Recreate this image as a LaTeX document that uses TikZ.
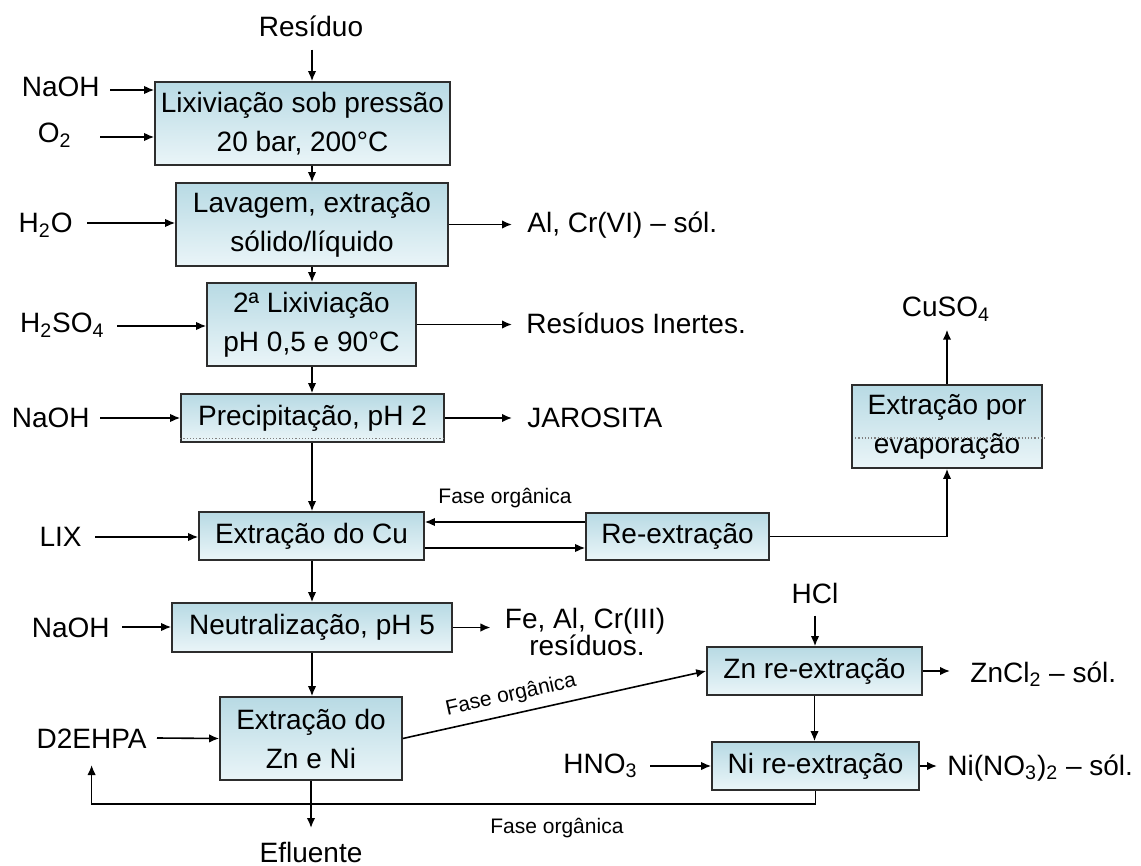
\documentclass[tikz,border=0pt]{standalone}
\usepackage{fontspec}
\setmainfont{Liberation Sans}
\usetikzlibrary{arrows.meta,calc}
\definecolor{boxtop}{RGB}{184,218,228}
\definecolor{boxbot}{RGB}{234,245,248}
\definecolor{boxline}{RGB}{45,45,45}
\begin{document}
\begin{tikzpicture}[x=0.5pt,y=-0.5pt,
  box/.style={draw=boxline, line width=0.8pt, top color=boxtop, bottom color=boxbot,
    inner sep=0pt, align=center, font=\fontsize{14}{19.5}\selectfont},
  lbl/.style={inner sep=0pt, font=\fontsize{14}{16}\selectfont},
  small/.style={inner sep=0pt, font=\fontsize{10.5}{12}\selectfont},
  arr/.style={line width=0.8pt, draw=black, -{Latex[length=5pt,width=4.2pt]}},
  dotl/.style={densely dotted, draw=gray, line width=0.6pt},
]
\useasboundingbox (0,0) rectangle (1141,866);
\fill[white] (0,0) rectangle (1141,866);

% process boxes
\node[box, minimum width=147.5pt, minimum height=41.5pt] (lix)  at (302.5,123.5) {Lixiviação sob pressão\\20 bar, 200°C};
\node[box, minimum width=136pt,   minimum height=41.5pt] (lav)  at (312,224.5) {Lavagem, extração\\sólido/líquido};
\node[box, minimum width=104.5pt, minimum height=41.5pt] (lixb) at (311.5,324.5) {2ª Lixiviação\\pH 0,5 e 90°C};
\node[box, minimum width=131.5pt, minimum height=24pt]   (prec) at (312.5,418) {Precipitação, pH 2};
\node[box, minimum width=112.5pt, minimum height=24pt]   (cu)   at (311.5,536) {Extração do Cu};
\node[box, minimum width=140pt,   minimum height=24.5pt] (neu)  at (312,627.5) {Neutralização, pH 5};
\node[box, minimum width=91pt,    minimum height=41.5pt] (znni) at (311,738.5) {Extração do\\Zn e Ni};
\node[box, minimum width=91.5pt,  minimum height=23.5pt] (reex) at (677.5,536.5) {Re-extração};
\node[box, minimum width=95pt,    minimum height=41.5pt] (evap) at (947,426.5) {Extração por\\evaporação};
\node[box, minimum width=107.5pt, minimum height=24pt]   (zn)   at (814.5,671) {Zn re-extração};
\node[box, minimum width=103.5pt, minimum height=24pt]   (ni)   at (815.5,766) {Ni re-extração};

% scan artefact dotted lines
\coordinate (dy) at (0,438);
\draw[dotl] ([yshift=2pt]prec.south west) -- ([yshift=2pt]prec.south east);
\draw[dotl] ([xshift=2pt]evap.west |- dy) -- ([xshift=2pt]evap.east |- dy);

% text labels
\node[lbl, anchor=base] (res) at (311,37) {Resíduo};
\node[lbl, anchor=base east] (naoha) at (100,97) {NaOH};
\node[lbl, anchor=base east] (o2) at (72,143) {O\textsubscript{2}};
\node[lbl, anchor=base east] (h2o) at (73,233) {H\textsubscript{2}O};
\node[lbl, anchor=base east] (h2so) at (105,333) {H\textsubscript{2}SO\textsubscript{4}};
\node[lbl, anchor=base east] (naohb) at (90,427) {NaOH};
\node[lbl, anchor=base east] (lixin) at (82,546) {LIX};
\node[lbl, anchor=base east] (naohc) at (110,637) {NaOH};
\node[lbl, anchor=base east] (d2) at (147,748) {D2EHPA};
\node[lbl, anchor=base east] (hno) at (638,773) {HNO\textsubscript{3}};
\node[lbl, anchor=base] (hcl) at (815,603) {HCl};
\node[lbl, anchor=base] (cuso) at (946,317) {CuSO\textsubscript{4}};
\node[lbl, anchor=base] (efl) at (311,862) {Efluente};

\node[lbl, anchor=base west] (alcr) at (527,233) {Al, Cr(VI) – sól.};
\node[lbl, anchor=base west] (inert) at (526,334) {Resíduos Inertes.};
\node[lbl, anchor=base west] (jar) at (527,427) {JAROSITA};
\node[lbl, anchor=base] (fe) at (585,628) {Fe, Al, Cr(III)};
\node[lbl, anchor=base] (resid) at (587,655) {resíduos.};
\node[lbl, anchor=base west] (zncl) at (970,682) {ZnCl\textsubscript{2} – sól.};
\node[lbl, anchor=base west] (nino) at (947,775) {Ni(NO\textsubscript{3})\textsubscript{2} – sól.};

\node[small, anchor=base] (fo1) at (505,503) {Fase orgânica};
\node[small, anchor=base west] (fo3) at (490,833) {Fase orgânica};

% main spine
\coordinate (sp) at (312,0);
\draw[arr, shorten <=6pt] (res.south -| sp) -- (lix.north -| sp);
\draw[arr] (lix.south -| sp) -- (lav.north -| sp);
\draw[arr] (lav.south -| sp) -- (lixb.north -| sp);
\draw[arr] (lixb.south -| sp) -- (prec.north -| sp);
\draw[arr] (prec.south -| sp) -- (cu.north -| sp);
\draw[arr] (cu.south -| sp) -- (neu.north -| sp);
\draw[arr] (neu.south -| sp) -- (znni.north -| sp);

% inputs from the left
\draw[arr] ($(naoha.base east)+(10,-7)$) coordinate (t) -- (t -| lix.west);
\draw[arr] ($(o2.base east)+(28,-6)$) coordinate (t) -- (t -| lix.west);
\draw[arr] ($(h2o.base east)+(14,-10)$) coordinate (t) -- (t -| lav.west);
\draw[arr] ($(h2so.base east)+(12,-7)$) coordinate (t) -- (t -| lixb.west);
\draw[arr] ($(naohb.base east)+(10,-9)$) coordinate (t) -- (t -| prec.west);
\draw[arr] ($(lixin.base east)+(13,-9)$) coordinate (t) -- (t -| cu.west);
\draw[arr] ($(naohc.base east)+(12,-10)$) coordinate (t) -- (t -| neu.west);
\draw[arr] ($(d2.base east)+(10,-10)$) -- (znni.west);
\draw[arr] ($(hno.base east)+(12,-7)$) coordinate (t) -- (t -| ni.west);

% outputs to the right
\draw[arr, shorten >=7.5pt] (lav.east) -- (lav.east -| alcr.west);
\draw[arr, shorten >=7pt] (lixb.east) -- (lixb.east -| inert.west);
\draw[arr, shorten >=7.5pt] (prec.east) -- (prec.east -| jar.west);
\draw[arr, shorten >=7pt] (neu.east) -- (neu.east -| fe.west);
\draw[arr, shorten >=10pt] (zn.east) -- (zn.east -| zncl.west);
\draw[arr, shorten >=5pt] (ni.east) -- (ni.east -| nino.west);

% copper loop
\draw[arr] ([yshift=7.25pt]reex.west) -- ([yshift=7.25pt]reex.west -| cu.east);
\draw[arr] ([yshift=-6pt]cu.east) -- ([yshift=-6pt]cu.east -| reex.west);
\draw[arr] (reex.east) -| (evap.south);
\draw[arr, shorten >=4pt] (evap.north) -- (evap.north |- cuso.south);

% zinc / nickel
\draw[arr, shorten <=6pt] (hcl.south) -- (hcl.south |- zn.north);
\draw[arr] (zn.south) -- (zn.south |- ni.north);
\draw[arr] (znni.east) -- node[small, pos=0.37, sloped, above=4pt] {Fase orgânica} (zn.west);

% bottom recycle and effluent
\coordinate (bot) at (0,804);
\draw[arr] (ni.south) |- (bot -| d2.base) -- ($(d2.base)+(0,17)$);
\draw[arr] (znni.south) -- ($(efl.base)+(0,-34)$);
\end{tikzpicture}
\end{document}
